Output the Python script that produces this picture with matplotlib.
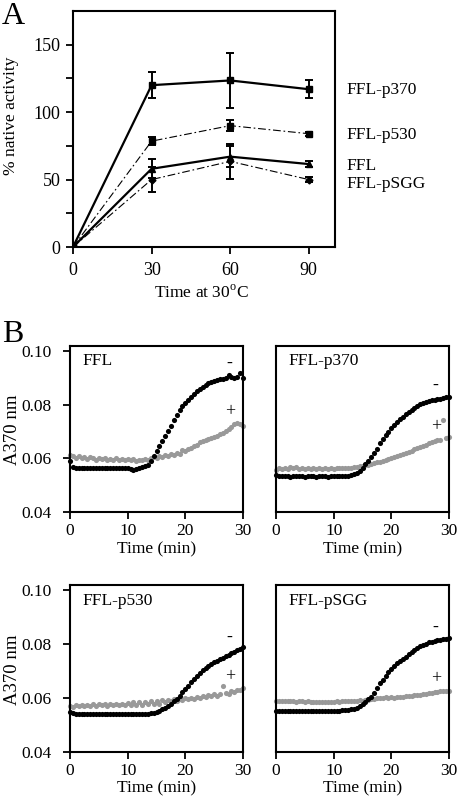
import numpy as np
import matplotlib
matplotlib.use("Agg")
import matplotlib.pyplot as plt

plt.rcParams['font.family'] = ['Liberation Serif', 'DejaVu Serif']
plt.rcParams['mathtext.fontset'] = 'custom'
plt.rcParams['mathtext.rm'] = 'Liberation Serif'

# ---- panel A: % native activity vs time at 30 C ----
time_a = [0, 30, 60, 90]
p370 = [0, 120, 123.5, 117]
p370_err = [0, 9.5, 20.5, 6.5]
p530 = [0, 78.5, 90, 84]
p530_err = [0, 3, 4, 1.5]
ffl = [0, 58, 67, 61.5]
ffl_err = [0, 7, 8, 2.5]
psgg = [0, 50, 63.5, 50]
psgg_err = [0, 9, 13, 2]
series_labels = ['FFL-p370', 'FFL-p530', 'FFL', 'FFL-pSGG']
label_y = [116.3, 82.7, 59.9, 46.8]

# ---- panel B: A370 traces, minus (black) and plus (gray) ----
t = np.arange(0, 30.01, 0.5)

ffl_minus = [0.0590, 0.0568, 0.0565, 0.0566, 0.0565, 0.0566, 0.0565, 0.0564, 0.0565, 0.0566,
             0.0565, 0.0564, 0.0565, 0.0564, 0.0565, 0.0564, 0.0564, 0.0565, 0.0563, 0.0564,
             0.0563, 0.0560, 0.0557, 0.0562, 0.0566, 0.0568, 0.0570, 0.0576, 0.0590, 0.0610,
             0.0628, 0.0645, 0.0664, 0.0685, 0.0703, 0.0722, 0.0745, 0.0762, 0.0780, 0.0795,
             0.0808, 0.0820, 0.0831, 0.0842, 0.0853, 0.0861, 0.0868, 0.0874, 0.0880, 0.0886,
             0.0889, 0.0893, 0.0896, 0.0898, 0.0901, 0.0912, 0.0905, 0.0900, 0.0903, 0.0920,
             0.0899]
ffl_plus = [0.0614, 0.0608, 0.0603, 0.0610, 0.0600, 0.0606, 0.0598, 0.0604, 0.0600, 0.0596,
            0.0602, 0.0597, 0.0600, 0.0595, 0.0599, 0.0596, 0.0601, 0.0595, 0.0598, 0.0594,
            0.0599, 0.0595, 0.0597, 0.0592, 0.0596, 0.0594, 0.0598, 0.0596, 0.0600, 0.0604,
            0.0602, 0.0608, 0.0605, 0.0612, 0.0609, 0.0616, 0.0614, 0.0621, 0.0618, 0.0630,
            0.0627, 0.0635, 0.0640, 0.0645, 0.0652, 0.0660, 0.0664, 0.0668, 0.0671, 0.0675,
            0.0680, 0.0684, 0.0690, 0.0696, 0.0701, 0.0710, 0.0718, 0.0727, 0.0731, 0.0728,
            0.0720]
p370_minus = [0.0537, 0.0534, 0.0533, 0.0534, 0.0533, 0.0532, 0.0534, 0.0533, 0.0534, 0.0533,
              0.0532, 0.0533, 0.0534, 0.0533, 0.0532, 0.0533, 0.0534, 0.0533, 0.0532, 0.0533,
              0.0534, 0.0533, 0.0533, 0.0534, 0.0535, 0.0536, 0.0538, 0.0541, 0.0545, 0.0552,
              0.0565, 0.0578, 0.0592, 0.0606, 0.0620, 0.0634, 0.0656, 0.0672, 0.0686, 0.0700,
              0.0712, 0.0724, 0.0735, 0.0746, 0.0756, 0.0765, 0.0773, 0.0780, 0.0789, 0.0796,
              0.0802, 0.0807, 0.0811, 0.0814, 0.0817, 0.0819, 0.0821, 0.0823, 0.0826, 0.0828,
              0.0829]
p370_plus = [0.0558, 0.0564, 0.0560, 0.0566, 0.0562, 0.0567, 0.0563, 0.0568, 0.0562, 0.0566,
             0.0561, 0.0565, 0.0562, 0.0564, 0.0561, 0.0563, 0.0562, 0.0564, 0.0561, 0.0563,
             0.0562, 0.0564, 0.0563, 0.0565, 0.0564, 0.0566, 0.0565, 0.0568, 0.0567, 0.0572,
             0.0573, 0.0575, 0.0577, 0.0580, 0.0582, 0.0585, 0.0588, 0.0592, 0.0595, 0.0599,
             0.0602, 0.0605, 0.0608, 0.0612, 0.0616, 0.0620, 0.0624, 0.0629, 0.0634, 0.0638,
             0.0642, 0.0646, 0.0651, 0.0656, 0.0660, 0.0664, 0.0668, 0.0670, 0.0745, 0.0675,
             0.0680]
p530_minus = [0.0547, 0.0544, 0.0542, 0.0541, 0.0541, 0.0540, 0.0541, 0.0540, 0.0541, 0.0540,
              0.0541, 0.0540, 0.0540, 0.0541, 0.0540, 0.0541, 0.0540, 0.0540, 0.0541, 0.0540,
              0.0541, 0.0540, 0.0540, 0.0541, 0.0540, 0.0541, 0.0541, 0.0542, 0.0544, 0.0546,
              0.0549, 0.0553, 0.0558, 0.0564, 0.0571, 0.0579, 0.0588, 0.0598, 0.0609, 0.0621,
              0.0633, 0.0646, 0.0659, 0.0671, 0.0683, 0.0694, 0.0704, 0.0713, 0.0720, 0.0727,
              0.0733, 0.0739, 0.0744, 0.0750, 0.0755, 0.0760, 0.0766, 0.0771, 0.0777, 0.0783,
              0.0789]
p530_plus = [0.0572, 0.0568, 0.0574, 0.0569, 0.0575, 0.0570, 0.0576, 0.0571, 0.0577, 0.0572,
             0.0578, 0.0573, 0.0577, 0.0572, 0.0578, 0.0573, 0.0579, 0.0574, 0.0580, 0.0573,
             0.0583, 0.0574, 0.0585, 0.0575, 0.0586, 0.0576, 0.0587, 0.0577, 0.0588, 0.0578,
             0.0590, 0.0580, 0.0592, 0.0584, 0.0594, 0.0588, 0.0596, 0.0590, 0.0597, 0.0593,
             0.0599, 0.0595, 0.0601, 0.0598, 0.0604, 0.0600, 0.0607, 0.0603, 0.0610, 0.0607,
             0.0614, 0.0609, 0.0617, 0.0646, 0.0620, 0.0616, 0.0628, 0.0622, 0.0632, 0.0630,
             0.0636]
psgg_minus = [0.0553, 0.0552, 0.0553, 0.0552, 0.0552, 0.0553, 0.0552, 0.0553, 0.0554, 0.0553,
              0.0552, 0.0552, 0.0553, 0.0552, 0.0551, 0.0552, 0.0552, 0.0553, 0.0552, 0.0553,
              0.0553, 0.0554, 0.0554, 0.0555, 0.0556, 0.0557, 0.0559, 0.0561, 0.0565, 0.0570,
              0.0577, 0.0586, 0.0596, 0.0605, 0.0620, 0.0638, 0.0655, 0.0668, 0.0683, 0.0696,
              0.0710, 0.0721, 0.0730, 0.0738, 0.0746, 0.0754, 0.0762, 0.0771, 0.0779, 0.0786,
              0.0792, 0.0798, 0.0802, 0.0807, 0.0810, 0.0812, 0.0814, 0.0817, 0.0818, 0.0821,
              0.0823]
psgg_plus = [0.0591, 0.0588, 0.0590, 0.0588, 0.0591, 0.0588, 0.0589, 0.0587, 0.0589, 0.0590,
             0.0587, 0.0588, 0.0586, 0.0587, 0.0585, 0.0586, 0.0584, 0.0586, 0.0585, 0.0587,
             0.0586, 0.0588, 0.0587, 0.0589, 0.0588, 0.0590, 0.0589, 0.0591, 0.0590, 0.0592,
             0.0591, 0.0594, 0.0592, 0.0595, 0.0597, 0.0599, 0.0600, 0.0602, 0.0603, 0.0601,
             0.0604, 0.0602, 0.0605, 0.0603, 0.0606, 0.0607, 0.0609, 0.0608, 0.0611, 0.0612,
             0.0613, 0.0615, 0.0617, 0.0618, 0.0620, 0.0622, 0.0624, 0.0625, 0.0627, 0.0627,
             0.0628]

panel_titles = ['FFL', 'FFL-p370', 'FFL-p530', 'FFL-pSGG']
minus_curves = [ffl_minus, p370_minus, p530_minus, psgg_minus]
plus_curves = [ffl_plus, p370_plus, p530_plus, psgg_plus]
minus_sign_y = [0.0955, 0.0872, 0.0825, 0.0862]
plus_sign_y = [0.0775, 0.0719, 0.0680, 0.0672]

fig = plt.figure(figsize=(4.58, 7.98), dpi=100)

# panel A
ax = fig.add_axes([73 / 458, 1 - 247 / 798, 262 / 458, 236 / 798])
dashdot = (0, (7, 2.5, 1.5, 2.5))
ax.errorbar(time_a, p370, yerr=p370_err, color='black', lw=1.6, marker='s', ms=5,
            capsize=3, elinewidth=1.4, capthick=1.4)
ax.errorbar(time_a, p530, yerr=p530_err, color='black', lw=0.8, ls=dashdot, marker='s', ms=4,
            capsize=3, elinewidth=1.4, capthick=1.4)
ax.errorbar(time_a, ffl, yerr=ffl_err, color='black', lw=1.6, marker='^', ms=5,
            capsize=3, elinewidth=1.4, capthick=1.4)
ax.errorbar(time_a, psgg, yerr=psgg_err, color='black', lw=0.8, ls=dashdot, marker='D', ms=3.5,
            capsize=3, elinewidth=1.4, capthick=1.4)
for lab, y in zip(series_labels, label_y):
    ax.text(104.3, y, lab, fontsize=12.5, va='center', ha='left', clip_on=False)
ax.set_xlim(0, 100)
ax.set_ylim(0, 175)
ax.set_xticks([0, 30, 60, 90])
ax.set_yticks([0, 50, 100, 150])
ax.set_yticks([25, 75, 125], minor=True)
ax.tick_params(axis='both', which='both', direction='out', length=5, width=1.3,
               labelsize=13, pad=4)
ax.tick_params(axis='x', pad=6)
for s in ax.spines.values():
    s.set_linewidth(1.5)
ax.set_xlabel('Time at 30$^{\\mathrm{o}}$C', fontsize=12.5)
ax.set_ylabel('% native activity', fontsize=12.5)
ax.xaxis.set_label_coords(0.49, -0.158)
ax.yaxis.set_label_coords(-0.208, 0.555)
fig.text(13 / 458, 1 - 16 / 798, 'A', fontsize=23, ha='center', va='center')
fig.text(13 / 458, 1 - 334 / 798, 'B', fontsize=23, ha='center', va='center')

# panel B
positions = [(70, 346, 512), (276, 346, 512), (70, 585, 752), (276, 585, 752)]
for i, (left, top, bottom) in enumerate(positions):
    bx = fig.add_axes([left / 458, 1 - bottom / 798, 173 / 458, (bottom - top) / 798])
    bx.plot(t, plus_curves[i], 'o', color='#999999', ms=3.7, mec='none', clip_on=False)
    bx.plot(t, minus_curves[i], 'o', color='black', ms=3.7, mec='none', clip_on=False)
    bx.text(27.7, minus_sign_y[i], '-', fontsize=13, ha='center', va='center')
    bx.text(27.7, plus_sign_y[i], '+', fontsize=13, ha='center', va='center')
    bx.text(0.07, 0.955, panel_titles[i], transform=bx.transAxes, fontsize=12.5,
            ha='left', va='top')
    bx.set_xlim(0, 30)
    bx.set_ylim(0.04, 0.102)
    bx.set_xticks([0, 10, 20, 30])
    bx.set_yticks([0.04, 0.06, 0.08, 0.10])
    bx.yaxis.set_major_formatter(matplotlib.ticker.FormatStrFormatter('%.2f'))
    bx.tick_params(direction='out', length=5, width=1.3, labelsize=12.5, pad=3)
    bx.tick_params(axis='y', pad=8)
    for s in bx.spines.values():
        s.set_linewidth(1.5)
    bx.set_xlabel('Time (min)', fontsize=12.5)
    label_y_pos = -0.18 if i < 2 else -0.172
    bx.xaxis.set_label_coords(0.5, label_y_pos)
    if i % 2 == 0:
        bx.set_ylabel('A370 nm', fontsize=13.5)
        bx.yaxis.set_label_coords(-0.285, 0.494)
    else:
        bx.tick_params(axis='y', left=False, labelleft=False)

fig.savefig('out.png', dpi=100)
